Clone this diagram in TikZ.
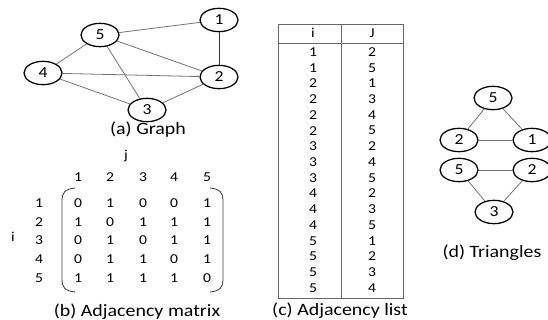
\documentclass[tikz,border=0pt]{standalone}
\usepackage{fontspec}
\setmainfont{Carlito}[FakeStretch=1.15]
\usetikzlibrary{shapes.geometric}
\begin{document}
\begin{tikzpicture}[x=0.75pt,y=-0.75pt,
  vtx/.style={ellipse,draw,line width=0.95pt,minimum width=28.5pt,minimum height=17.5pt,inner sep=0pt,font=\fontsize{11.5}{13}\selectfont},
  edge/.style={draw=black!55,line width=0.6pt},
  capt/.style={inner sep=0pt,font=\fontsize{13}{15}\selectfont},
  num/.style={inner sep=0pt,font=\fontsize{10.2}{12}\selectfont},
  tline/.style={draw=black!60,line width=0.65pt}]
\useasboundingbox (0,0) rectangle (548,320);
\begin{scope}
\clip (0,0) rectangle (548,320);
% (a) Graph
\node[vtx] (g1) at (219,20) {1};
\node[vtx] (g5) at (100,35) {5};
\node[vtx] (g4) at (43,73) {4};
\node[vtx] (g2) at (219,77) {2};
\node[vtx] (g3) at (147,110) {3};
\draw[edge] (g5) -- (g1);
\draw[edge] (g5) -- (g2);
\draw[edge] (g5) -- (g4);
\draw[edge] (g5) -- (g3);
\draw[edge,draw=black!80,line width=0.75pt] (g1) -- (g2);
\draw[edge] (g4) -- (g2);
\draw[edge] (g4) -- (g3);
\draw[edge] (g3) -- (g2);
\node[capt] (capa) at (148,130) {(a) Graph};
% (b) Adjacency matrix
\node[num] (jlab) at (126,156) {j};
\node[num] (ilab) at (13,237) {i};
\foreach \c [count=\k] in {78,110,143,174,207} {
  \node[num] (ch\k) at (\c,177) {\k};
}
\foreach \r [count=\k] in {203,222,240,259,278} {
  \node[num] (rh\k) at (39,\r) {\k};
}
\foreach \row [count=\ri] in {{0,1,0,0,1},{1,0,1,1,1},{0,1,0,1,1},{0,1,1,0,1},{1,1,1,1,0}} {
  \foreach \v [count=\ci] in \row {
    \pgfmathsetmacro{\xx}{{78,110,143,174,207}[\ci-1]}
    \pgfmathsetmacro{\yy}{{203,222,240,259,278}[\ri-1]}
    \node[num] (m\ri\ci) at (\xx,\yy) {\v};
  }
}
\draw[line width=0.65pt,black!75] (75,188) .. controls (65,189) and (62,193) .. (62,200) -- (62,280) .. controls (62,287) and (65,291) .. (75,292);
\draw[line width=0.65pt,black!75] (210,188) .. controls (220,189) and (223,193) .. (223,200) -- (223,280) .. controls (223,287) and (220,291) .. (210,292);
\node[capt] (capb) at (137,312) {(b) Adjacency matrix};
% (c) Adjacency list
\draw[tline] (278,24) rectangle (403,298);
\draw[tline] (278,43) -- (403,43);
\draw[tline] (341,24) -- (341,298);
\node[num] (hi) at (313,33) {i};
\node[num] (hj) at (372,33) {J};
\foreach \a/\b [count=\k] in {1/2,1/5,2/1,2/3,2/4,2/5,3/2,3/4,3/5,4/2,4/3,4/5,5/1,5/2,5/3,5/4} {
  \node[num] (la\k) at (313,{52+(\k-1)*15.73}) {\a};
  \node[num] (lb\k) at (372,{52+(\k-1)*15.73}) {\b};
}
\node[capt] (capc) at (340,311) {(c) Adjacency list};
% (d) Triangles
\node[vtx] (t5a) at (493,98) {5};
\node[vtx] (t2a) at (459,140) {2};
\node[vtx] (t1) at (532,140) {1};
\node[vtx] (t5b) at (459,170) {5};
\node[vtx] (t2b) at (532,170) {2};
\node[vtx] (t3) at (494,212) {3};
\draw[edge] (t5a) -- (t2a);
\draw[edge] (t5a) -- (t1);
\draw[edge] (t2a) -- (t1);
\draw[edge] (t5b) -- (t2b);
\draw[edge] (t5b) -- (t3);
\draw[edge] (t2b) -- (t3);
\node[capt] (capd) at (492,253) {(d) Triangles};
\end{scope}
\end{tikzpicture}
\end{document}
